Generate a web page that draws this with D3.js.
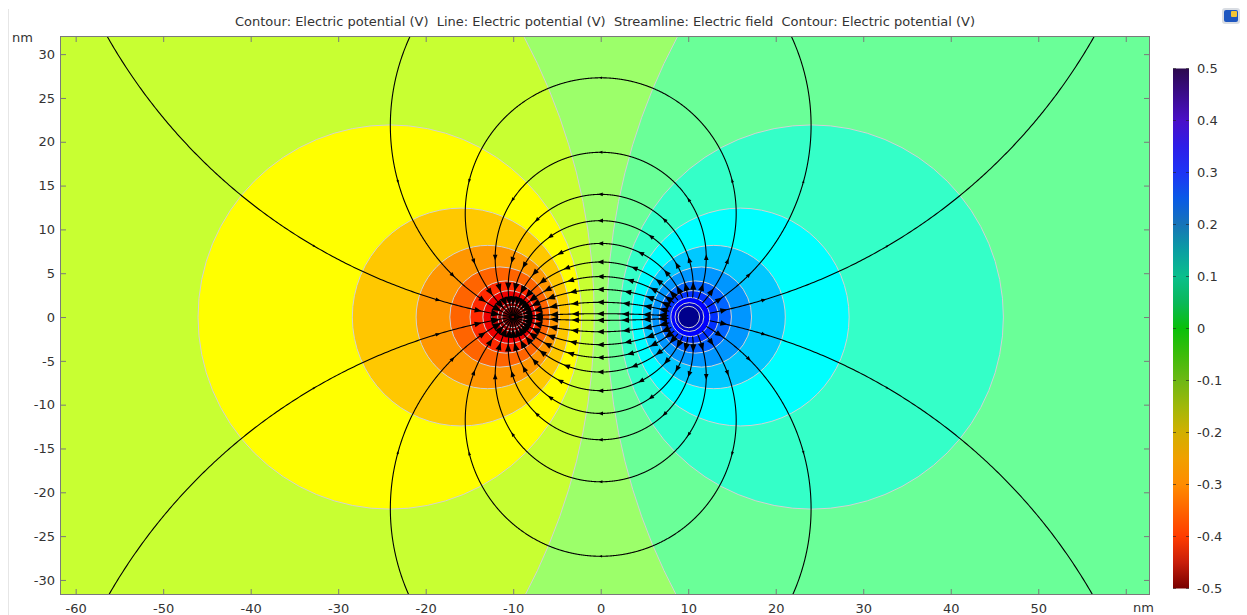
<!DOCTYPE html>
<html>
<head>
<meta charset="utf-8">
<script src="https://cdn.jsdelivr.net/npm/d3@7"></script>
<style>
  body { margin: 0; background: #fff; }
  svg { display: block; }
  text { font-family: "DejaVu Sans", sans-serif; font-size: 13px; fill: #333; }
</style>
</head>
<body>
<svg id="chart" width="1247" height="615"></svg>
<script>
// ---- Model data -------------------------------------------------------------
// Two parallel line charges (x position in nm) and their surface potentials (V)
const chargeX = [-10, 10];
const chargeV = [-0.5, 0.5];
const chargeRadius = 1.0;               // nm

// Filled-contour levels (V)
const contourLevels = [-0.475, -0.425, -0.375, -0.325, -0.275, -0.225, -0.175, -0.125, -0.075, -0.025,
                        0.025,  0.075,  0.125,  0.175,  0.225,  0.275,  0.325,  0.375,  0.425,  0.475];
// Band colours, lowest band (V < -0.475) to highest (V > 0.475)
const bandColors = ["#7a0606", "#a00000", "#cc0000", "#ee0000", "#ff2a00", "#ff6400", "#ff9600", "#ffc800",
                    "#ffff00", "#c8ff32", "#9cff6a", "#6aff98", "#34ffc8", "#00ffff", "#00c8ff", "#0096ff",
                    "#0064ff", "#0032ff", "#0000ff", "#0000c8", "#00008c"];

// Field lines: where each one crosses the symmetry plane x = 0 (nm)
const streamCrossings = [0.38, 1.68, 3.15, 4.62, 6.28, 8.4, 11.0, 14.0, 18.8, 27.3, 45.9, 129,
                         -0.38, -1.68, -3.15, -4.62, -6.28, -8.4, -11.0, -14.0, -18.8, -27.3, -45.9, -129];
// Potentials (V) at which arrowheads sit on every field line
const arrowLevels = [0.4, 0.3, 0.2, 0.1, 0, -0.1, -0.2, -0.3, -0.4];

// Axes
const xExtent = [-61.79, 62.77];
const yExtent = [-31.72, 32.07];
const xTicks = [-60, -50, -40, -30, -20, -10, 0, 10, 20, 30, 40, 50, 60];
const xTickLabels = [-60, -50, -40, -30, -20, -10, 0, 10, 20, 30, 40, 50];
const yTicks = [-30, -25, -20, -15, -10, -5, 0, 5, 10, 15, 20, 25, 30];
const colorbarTicks = [0.5, 0.4, 0.3, 0.2, 0.1, 0, -0.1, -0.2, -0.3, -0.4, -0.5];
const colorbarStops = [
  [0.5, "#2c0a4e"], [0.45, "#3b0c8c"], [0.4, "#4a10c8"], [0.35, "#2e1ee8"], [0.3, "#1e34f5"],
  [0.25, "#0a5ae6"], [0.2, "#1674b8"], [0.15, "#0a9ea2"], [0.1, "#0abf8c"], [0.05, "#0ab85a"],
  [0, "#0ac00a"], [-0.05, "#3cbc0a"], [-0.1, "#6eb814"], [-0.15, "#a0b80a"], [-0.2, "#d2b000"],
  [-0.25, "#f0a000"], [-0.3, "#ff8c00"], [-0.35, "#ff6400"], [-0.4, "#ff3c00"], [-0.45, "#c81e0a"],
  [-0.5, "#780000"]
];
const titleText = "Contour: Electric potential (V)  Line: Electric potential (V)  Streamline: Electric field  Contour: Electric potential (V)";

// ---- Layout -----------------------------------------------------------------
const svg = d3.select("#chart");
const P = { left: 60, top: 36, right: 1150, bottom: 595 };
const x = d3.scaleLinear().domain(xExtent).range([P.left, P.right]);
const y = d3.scaleLinear().domain(yExtent).range([P.bottom, P.top]);
const sx = x(1) - x(0), sy = y(0) - y(1);   // px per nm

// ---- Potential of the pair of line charges ---------------------------------
const a = chargeX[1];
const c = chargeV[1] / Math.log((2 * a - chargeRadius) / chargeRadius);
const rMinus = (px, py) => Math.hypot(px - chargeX[0], py);
const rPlus  = (px, py) => Math.hypot(px - chargeX[1], py);
const potential = (px, py) => c * Math.log(rMinus(px, py) / rPlus(px, py));
const fieldMag = (px, py) => c * 2 * a / (rMinus(px, py) * rPlus(px, py));

// Equipotential of level v is a circle (Apollonius circle)
function levelCircle(v) {
  const k = Math.exp(-Math.abs(v) / c);
  const cx = Math.sign(v) * a * (1 + k * k) / (1 - k * k);
  const r = 2 * a * k / (1 - k * k);
  return { cx, r };
}

// ---- Panel decorations -----------------------------------------------------
svg.append("line").attr("x1", 8.5).attr("x2", 8.5).attr("y1", 9).attr("y2", 615)
  .attr("stroke", "#e6e6e6").attr("stroke-width", 1);

svg.append("text").attr("x", 605).attr("y", 26).attr("text-anchor", "middle")
  .style("white-space", "pre").attr("xml:space", "preserve").text(titleText);

// small toolbar icon
const icon = svg.append("g");
icon.append("rect").attr("x", 1222).attr("y", 8).attr("width", 18).attr("height", 16).attr("rx", 3).attr("fill", "#d9dde3");
icon.append("rect").attr("x", 1224).attr("y", 10).attr("width", 14).attr("height", 12).attr("rx", 2).attr("fill", "#1f57c0");
icon.append("rect").attr("x", 1231).attr("y", 11).attr("width", 6).attr("height", 6).attr("rx", 1).attr("fill", "#f4c534");

// ---- Plot area ---------------------------------------------------------------
svg.append("defs").append("clipPath").attr("id", "plotClip")
  .append("rect").attr("x", P.left).attr("y", P.top)
  .attr("width", P.right - P.left).attr("height", P.bottom - P.top);

const plot = svg.append("g").attr("clip-path", "url(#plotClip)");

// central band as background
plot.append("rect").attr("x", P.left).attr("y", P.top)
  .attr("width", P.right - P.left).attr("height", P.bottom - P.top)
  .attr("fill", bandColors[10]);

// filled bands: paint nested disks from the outermost inwards
const fills = [];
for (let i = 9; i >= 0; i--) fills.push({ level: contourLevels[i], color: bandColors[i] });
for (let i = 10; i < contourLevels.length; i++) fills.push({ level: contourLevels[i], color: bandColors[i + 1] });

plot.append("g").selectAll("ellipse").data(fills).join("ellipse")
  .attr("cx", d => x(levelCircle(d.level).cx))
  .attr("cy", y(0))
  .attr("rx", d => levelCircle(d.level).r * sx)
  .attr("ry", d => levelCircle(d.level).r * sy)
  .attr("fill", d => d.color);

// contour lines
plot.append("g").selectAll("ellipse").data(contourLevels).join("ellipse")
  .attr("cx", d => x(levelCircle(d).cx))
  .attr("cy", y(0))
  .attr("rx", d => levelCircle(d).r * sx)
  .attr("ry", d => levelCircle(d).r * sy)
  .attr("fill", "none")
  .attr("stroke", "#d2d2d2")
  .attr("stroke-width", 1);

// ---- Field lines -------------------------------------------------------------
// Each field line is an arc of a circle through both charges.
function fieldLine(t) {
  const tt = Math.abs(t), s = Math.sign(t);
  const yc = (tt - a * a / tt) / 2;
  const R = (tt + a * a / tt) / 2;
  const th0 = Math.atan2(-yc, a);          // at + charge
  const th1 = Math.PI - th0;               // at - charge
  const pt = th => [R * Math.cos(th), s * (yc + R * Math.sin(th))];
  const dir = th => [-Math.sin(th), s * Math.cos(th)];
  return { th0, th1, pt, dir };
}

const lineGen = d3.line().x(d => x(d[0])).y(d => y(d[1]));
const rStart = 2.25, rEnd = 0.12;
const arrows = [];

const lines = streamCrossings.map(t => {
  const f = fieldLine(t);
  const n = 1400;
  const pts = [];
  for (let i = 0; i <= n; i++) {
    const th = f.th0 + (f.th1 - f.th0) * i / n;
    const p = f.pt(th);
    if (rPlus(p[0], p[1]) >= rStart && rMinus(p[0], p[1]) >= rEnd) pts.push(p);
  }
  // arrowheads where the line crosses the chosen potentials
  arrowLevels.forEach(v => {
    let lo = f.th0, hi = f.th1;
    for (let k = 0; k < 60; k++) {
      const mid = (lo + hi) / 2;
      const p = f.pt(mid);
      if (potential(p[0], p[1]) > v) lo = mid; else hi = mid;
    }
    const th = (lo + hi) / 2;
    const p = f.pt(th);
    if (rPlus(p[0], p[1]) < rStart) return;
    if (p[0] < xExtent[0] || p[0] > xExtent[1] || p[1] < yExtent[0] || p[1] > yExtent[1]) return;
    arrows.push({ p, d: f.dir(th), e: fieldMag(p[0], p[1]) });
  });
  return pts;
});

plot.append("g").selectAll("path").data(lines).join("path")
  .attr("d", lineGen)
  .attr("fill", "none")
  .attr("stroke", "#000")
  .attr("stroke-width", 1.1);

const E0 = c * 2 / a;   // field strength midway between the charges
plot.append("g").selectAll("path").data(arrows).join("path")
  .attr("d", d => {
    const L = Math.max(2.5, Math.min(9, 7 * Math.pow(d.e / E0, 0.4)));
    let ux = d.d[0] * sx, uy = -d.d[1] * sy;
    const m = Math.hypot(ux, uy); ux /= m; uy /= m;
    const cx0 = x(d.p[0]), cy0 = y(d.p[1]);
    const tip = [cx0 + ux * L * 0.55, cy0 + uy * L * 0.55];
    const bx = cx0 - ux * L * 0.45, by = cy0 - uy * L * 0.45;
    const w = L * 0.4;
    return `M${tip[0]},${tip[1]}L${bx - uy * w},${by + ux * w}L${bx + uy * w},${by - ux * w}Z`;
  })
  .attr("fill", "#000");

// ---- Frame and axes ------------------------------------------------------------
const axisColor = "#7a7a7a";
function styleAxis(g) {
  g.select(".domain").remove();
  g.selectAll(".tick line").attr("stroke", axisColor);
  g.selectAll(".tick text").attr("fill", "#333").style("font-size", "13px")
    .style("font-family", "'DejaVu Sans', sans-serif");
}
const fmt = d => String(d);

svg.append("g").attr("transform", `translate(0,${P.bottom})`)
  .call(d3.axisBottom(x).tickValues(xTicks).tickSize(-6).tickPadding(8.8)
    .tickFormat(d => xTickLabels.includes(d) ? fmt(d) : ""))
  .call(styleAxis);
svg.append("g").attr("transform", `translate(0,${P.top})`)
  .call(d3.axisTop(x).tickValues(xTicks).tickSize(-6).tickFormat(""))
  .call(styleAxis);
svg.append("g").attr("transform", `translate(${P.left},0)`)
  .call(d3.axisLeft(y).tickValues(yTicks).tickSize(-6).tickPadding(5).tickFormat(fmt))
  .call(styleAxis);
svg.append("g").attr("transform", `translate(${P.right},0)`)
  .call(d3.axisRight(y).tickValues(yTicks).tickSize(-6).tickFormat(""))
  .call(styleAxis);

svg.append("rect").attr("x", P.left + 0.5).attr("y", P.top + 0.5)
  .attr("width", P.right - P.left - 1).attr("height", P.bottom - P.top - 1)
  .attr("fill", "none").attr("stroke", axisColor).attr("stroke-width", 1);

svg.append("text").attr("x", 12).attr("y", 42).text("nm");
svg.append("text").attr("x", 1133).attr("y", 612).text("nm");

// ---- Colour bar ----------------------------------------------------------------
const cb = { x: 1173, w: 16 };
const cy = d3.scaleLinear().domain([-0.5, 0.5]).range([588.5, 68.5]);
const grad = svg.select("defs").append("linearGradient").attr("id", "cbGrad")
  .attr("x1", 0).attr("x2", 0).attr("y1", 0).attr("y2", 1);
grad.selectAll("stop").data(colorbarStops).join("stop")
  .attr("offset", d => (cy(d[0]) - cy(0.5)) / (cy(-0.5) - cy(0.5)))
  .attr("stop-color", d => d[1]);
svg.append("rect").attr("x", cb.x).attr("y", cy(0.5)).attr("width", cb.w)
  .attr("height", cy(-0.5) - cy(0.5)).attr("fill", "url(#cbGrad)");

const cbg = svg.append("g");
cbg.selectAll("line.l").data(colorbarTicks).join("line").attr("class", "l")
  .attr("x1", cb.x).attr("x2", cb.x + 3).attr("y1", d => cy(d)).attr("y2", d => cy(d))
  .attr("stroke", "#222").attr("stroke-opacity", 0.6);
cbg.selectAll("line.r").data(colorbarTicks).join("line").attr("class", "r")
  .attr("x1", cb.x + cb.w - 3).attr("x2", cb.x + cb.w).attr("y1", d => cy(d)).attr("y2", d => cy(d))
  .attr("stroke", "#222").attr("stroke-opacity", 0.6);
cbg.selectAll("text").data(colorbarTicks).join("text")
  .attr("x", 1197).attr("y", d => cy(d)).attr("dy", "0.35em")
  .text(d => d === 0 ? "0" : d.toFixed(1));
</script>
</body>
</html>
